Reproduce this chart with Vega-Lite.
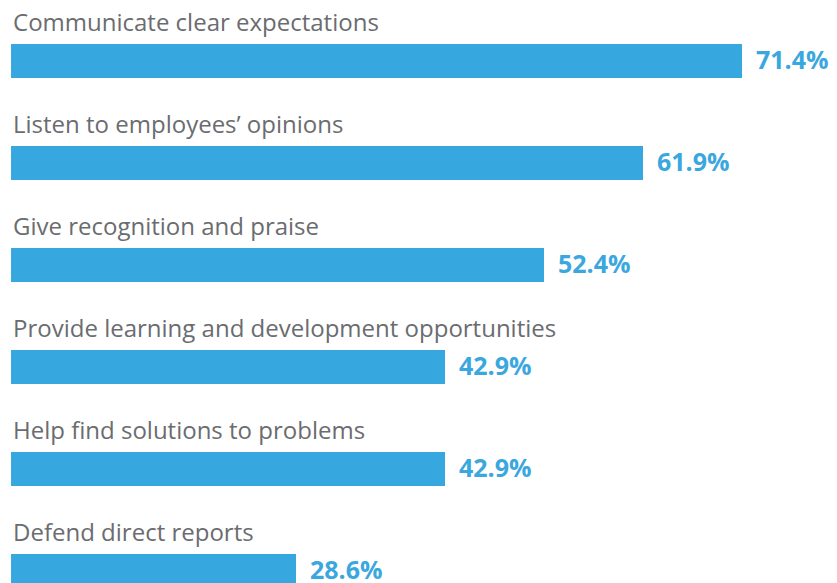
{
  "$schema": "https://vega.github.io/schema/vega-lite/v6.json",
  "width": 837,
  "height": 583,
  "autosize": "none",
  "padding": 0,
  "background": "white",
  "config": {"view": {"stroke": null}},
  "data": {"values": [
    {"item": "Communicate clear expectations", "value": 71.4, "label": "71.4%"},
    {"item": "Listen to employees’ opinions", "value": 61.9, "label": "61.9%"},
    {"item": "Give recognition and praise", "value": 52.4, "label": "52.4%"},
    {"item": "Provide learning and development opportunities", "value": 42.9, "label": "42.9%"},
    {"item": "Help find solutions to problems", "value": 42.9, "label": "42.9%"},
    {"item": "Defend direct reports", "value": 28.6, "label": "28.6%"}
  ]},
  "encoding": {
    "y": {"field": "item", "type": "nominal", "sort": null, "axis": null,
          "scale": {"range": [44, 588], "paddingInner": 0.6667, "paddingOuter": 0}}
  },
  "layer": [
    {
      "mark": {"type": "bar", "color": "#36A8DF"},
      "encoding": {
        "x": {"field": "value", "type": "quantitative", "axis": null,
              "scale": {"domain": [0, 80], "range": [-2, 831.6]}},
        "x2": {"datum": 1.25}
      }
    },
    {
      "mark": {"type": "text", "align": "left", "baseline": "middle", "dx": 14, "font": "Open Sans", "fontSize": 25, "fontWeight": "bold", "color": "#3AA7DE"},
      "encoding": {
        "x": {"field": "value", "type": "quantitative"},
        "text": {"field": "label"}
      }
    },
    {
      "mark": {"type": "text", "align": "left", "baseline": "alphabetic", "dx": 2, "dy": -30, "font": "Open Sans", "fontSize": 24, "color": "#6B6C6F"},
      "encoding": {
        "x": {"datum": 1.25},
        "text": {"field": "item"}
      }
    }
  ]
}
